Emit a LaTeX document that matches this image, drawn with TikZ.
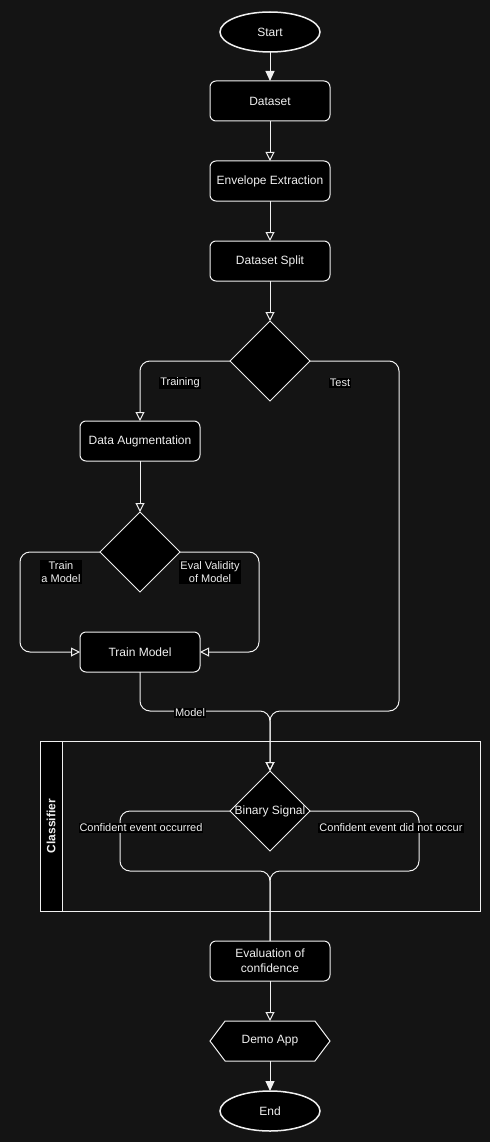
\documentclass[tikz,border=0pt]{standalone}
\usepackage{fontspec}
\setmainfont{Liberation Sans}
\usepackage{tikz}
\usetikzlibrary{positioning}
\usetikzlibrary{shapes.geometric,shapes.symbols}
\usetikzlibrary{arrows.meta}
\definecolor{canvas}{HTML}{141414}
\definecolor{ink}{HTML}{F0F0F0}
\tikzset{
	stepbox/.style={
		rectangle,
		draw=ink,
		fill=black,
		text=ink,
		line width=1pt,
		outer sep=0pt,
		align=center,
		minimum width=120pt,
		minimum height=40pt,
		inner sep=2pt,
		rounded corners=6pt,
		font=\fontsize{12}{15}\selectfont
	},
	terminal/.style={
		ellipse,
		draw=ink,
		fill=black,
		text=ink,
		line width=1.5pt,
		outer sep=0pt,
		minimum width=100pt,
		minimum height=40pt,
		inner sep=0pt,
		font=\fontsize{12}{15}\selectfont
	},
	decision/.style={
		diamond,
		aspect=1,
		draw=ink,
		fill=black,
		text=ink,
		line width=1pt,
		outer sep=0pt,
		minimum width=80pt,
		minimum height=80pt,
		inner sep=0pt,
		label={[text=ink, font=\fontsize{12}{15}\selectfont]center:#1}
	},
	decision/.default={},
	demobox/.style={
		signal,
		signal to=west and east,
		signal pointer angle=106,
		draw=ink,
		fill=black,
		text=ink,
		line width=1pt,
		outer sep=0pt,
		minimum width=120pt,
		minimum height=40pt,
		inner sep=2pt,
		font=\fontsize{12}{15}\selectfont
	},
	elabel/.style={
		fill=black,
		text=ink,
		align=center,
		inner sep=1pt,
		font=\fontsize{11}{13}\selectfont
	},
	flow/.style={draw=ink, line width=1pt, rounded corners=10pt},
	flowfilled/.style={flow, -{Triangle[length=10pt,width=9pt]}},
	flowopen/.style={flow, -{Triangle[open,length=9pt,width=9pt]}}
}

\begin{document}
\begin{tikzpicture}[x=1pt,y=1pt]
		\fill[canvas] (0,0) rectangle (490,-1142);
		\useasboundingbox (0,0) rectangle (490,-1142);
		
		% classifier lane
		\draw[ink, line width=1pt] (40,-741) rectangle (480,-911);
		\fill[black] (40,-741) rectangle (62,-911);
		\draw[ink, line width=1pt] (40,-741) rectangle (62,-911);
		\node[rotate=90, text=ink, font=\fontsize{12}{15}\selectfont\bfseries] (ClassifierLabel) at (51,-826) {Classifier};
		
		\draw node[terminal] (Start) at (270,-32) {Start};
		\draw node[stepbox, below=29pt of Start](Dataset){Dataset};
		\draw node[stepbox, below=40pt of Dataset](Envelope){Envelope Extraction};
		\draw node[stepbox, below=40pt of Envelope](Split){Dataset Split};
		\draw node[decision, below=40pt of Split](SplitChoice){};
		\draw node[stepbox, below left=60pt and 30pt of SplitChoice.west](Augment){Data Augmentation};
		\draw node[decision, below=51pt of Augment](Validity){};
		\draw node[stepbox, below=40pt of Validity](TrainModel){Train Model};
		\draw node[decision=Binary Signal, below=370pt of SplitChoice](Binary){};
		\draw node[stepbox, below=90pt of Binary](Evaluation){Evaluation of\\confidence};
		\draw node[demobox, below=40pt of Evaluation](Demo){Demo App};
		\draw node[terminal, below=30pt of Demo](End){End};
		
		\coordinate (ModelJoin) at (Binary.north |- 0,-711);
		\coordinate (ResultJoin) at (Binary.north |- 0,-871);
		
		\draw [flowfilled] (Start) -- (Dataset);
		\draw [flowopen] (Dataset) -- (Envelope);
		\draw [flowopen] (Envelope) -- (Split);
		\draw [flowopen] (Split) -- (SplitChoice);
		\draw [flowopen] (SplitChoice.west) -| (Augment.north);
		\draw [flowopen] (SplitChoice.east) -- ++(89,0) |- (ModelJoin) -- (Binary.north);
		\draw [flowopen] (Augment) -- (Validity);
		\draw [flowopen] (Validity.west) -- ++(-80,0) |- (TrainModel.west);
		\draw [flowopen] (Validity.east) -- ++(79,0) |- (TrainModel.east);
		\draw [flowopen] (TrainModel.south) |- (ModelJoin) -- (Binary.north);
		\draw [flow] (Binary.west) -- ++(-110,0) |- (ResultJoin) -- (Evaluation.north);
		\draw [flow] (Binary.east) -- ++(109,0) |- (ResultJoin) -- (Evaluation.north);
		\draw [flowopen] (Evaluation) -- (Demo);
		\draw [flowfilled] (Demo) -- (End);
		
		\node[elabel] (TrainingLabel) at (180,-383) {Training};
		\node[elabel] (TestLabel) at (340,-383) {Test};
		\node[elabel] (TrainLabel) at (61,-572) {Train\\a Model};
		\node[elabel] (EvalLabel) at (210,-572) {Eval Validity\\of Model};
		\node[elabel] (ModelLabel) at (190,-713) {Model};
		\node[elabel] (OccurredLabel) at (141,-828) {Confident event occurred};
		\node[elabel] (NotOccurredLabel) at (391,-828) {Confident event did not occur};
	\end{tikzpicture}
\end{document}
